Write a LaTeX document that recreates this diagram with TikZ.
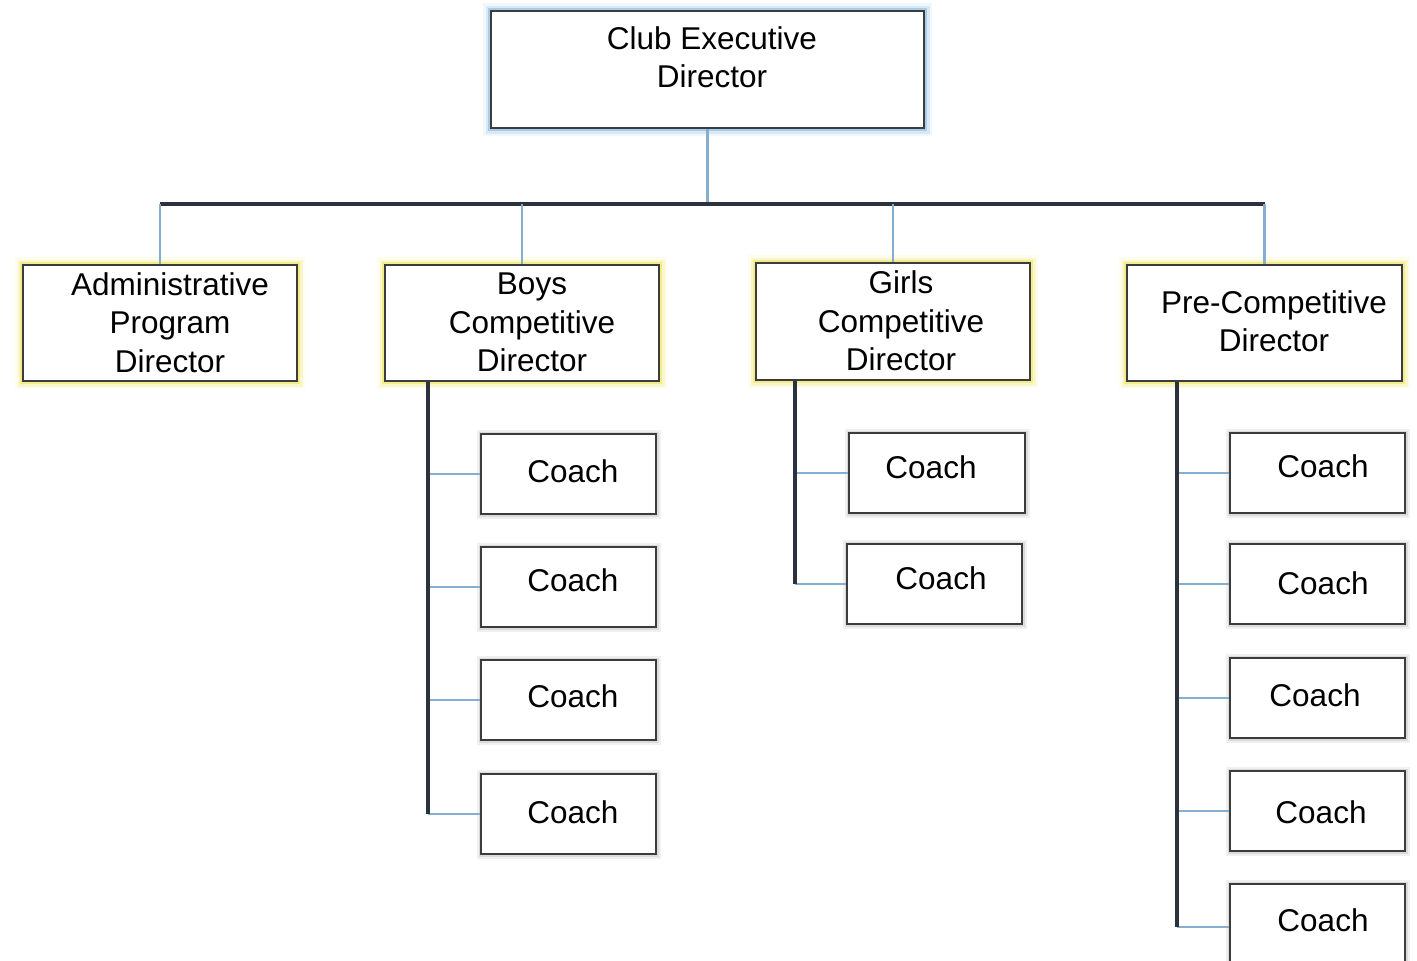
\documentclass[tikz,border=0pt]{standalone}
\usepackage{fontspec}
\setmainfont{Liberation Sans}
\definecolor{boxline}{HTML}{3C3C3C}
\definecolor{busc}{HTML}{2B323D}
\definecolor{twigc}{HTML}{86AED0}
\definecolor{yglow}{HTML}{F2EC8C}
\definecolor{bglow}{HTML}{A8CDEA}
\begin{document}
\begin{tikzpicture}[x=1pt,y=-1pt,
  box/.style={draw=boxline, line width=2pt, fill=white, inner sep=0pt},
  dirbox/.style={box, preaction={draw=yglow, line width=16pt, opacity=0.15}, preaction={draw=yglow, line width=11pt, opacity=0.35}, preaction={draw=yglow, line width=6pt}},
  topbox/.style={box, preaction={draw=bglow, line width=16pt, opacity=0.15}, preaction={draw=bglow, line width=11pt, opacity=0.35}, preaction={draw=bglow, line width=6pt}},
  coachbox/.style={box, minimum width=175pt, minimum height=80pt, preaction={draw=black!6, line width=9pt}, preaction={draw=black!14, line width=5pt}},
  txt/.style={font=\fontsize{31.5}{38.5}\selectfont, align=center, inner sep=0pt},
  bus/.style={draw=busc, line width=4pt},
  twig/.style={draw=twigc, line width=2.2pt}]
\clip (0,0) rectangle (1417,961);
\fill[white] (0,0) rectangle (1417,961);
% top
\node[topbox, minimum width=433pt, minimum height=117pt] (ceo) at (707.5,69.5) {};
\node[txt] (ceot) at (712,57) {Club Executive\\Director};
% directors
\node[dirbox, minimum width=274pt, minimum height=116pt] (adm) at (160,323) {};
\node[txt] (admt) at (170,322.5) {Administrative\\Program\\Director};
\node[dirbox, minimum width=274pt, minimum height=116pt] (boys) at (522,323) {};
\node[txt] (boyst) at (532,322.5) {Boys\\Competitive\\Director};
\node[dirbox, minimum width=274pt, minimum height=117pt] (girls) at (893,321.5) {};
\node[txt] (girlst) at (901,321) {Girls\\Competitive\\Director};
\node[dirbox, minimum width=275pt, minimum height=116pt] (pre) at (1264.5,323) {};
\node[txt] (pret) at (1274,321) {Pre-Competitive\\Director};
% boys coaches
\node[coachbox] (b1) at (568.5,474) {};
\node[txt] (b1t) at (573,471) {Coach};
\node[coachbox] (b2) at (568.5,587) {};
\node[txt] (b2t) at (573,580) {Coach};
\node[coachbox] (b3) at (568.5,700) {};
\node[txt] (b3t) at (573,696) {Coach};
\node[coachbox] (b4) at (568.5,814) {};
\node[txt] (b4t) at (573,812) {Coach};
% girls coaches
\node[coachbox, minimum width=176pt] (g1) at (937,473) {};
\node[txt] (g1t) at (931,467) {Coach};
\node[coachbox] (g2) at (934.5,584) {};
\node[txt] (g2t) at (941,578) {Coach};
% pre coaches
\node[coachbox] (p1) at (1317.5,473) {};
\node[txt] (p1t) at (1323,466) {Coach};
\node[coachbox] (p2) at (1317.5,584) {};
\node[txt] (p2t) at (1323,583) {Coach};
\node[coachbox] (p3) at (1317.5,698) {};
\node[txt] (p3t) at (1315,695) {Coach};
\node[coachbox] (p4) at (1317.5,811) {};
\node[txt] (p4t) at (1321,812) {Coach};
\node[coachbox] (p5) at (1317.5,924) {};
\node[txt] (p5t) at (1323,920) {Coach};
% bus
\coordinate (busy) at (0,204);
\draw[twig] (ceo.south) -- (ceo.south |- busy);
\draw[bus] (adm.north |- busy) -- (pre.north |- busy);
\foreach \n in {adm,boys,girls,pre} \draw[twig] (\n.north |- busy) -- (\n.north);
% spines
\coordinate (bs) at ([xshift=44pt]boys.south west);
\coordinate (gs) at ([xshift=40pt]girls.south west);
\coordinate (ps) at ([xshift=51pt]pre.south west);
\foreach \c in {b1,b2,b3,b4} \draw[twig] (\c.west -| bs) -- (\c.west);
\foreach \c in {g1,g2} \draw[twig] (\c.west -| gs) -- (\c.west);
\draw[twig] (p1.west -| ps) -- (p1.west);
\draw[twig] (p2.west -| ps) -- (p2.west);
\draw[twig] (p3.west -| ps) -- (p3.west);
\draw[twig] (p4.west -| ps) -- (p4.west);
\draw[twig] ([yshift=-3pt]p5.west -| ps) -- ([yshift=-3pt]p5.west);
\draw[bus] (bs) -- (bs |- b4.west);
\draw[bus] (gs) -- (gs |- g2.west);
\draw[bus] (ps) -- ([yshift=-3pt]ps |- p5.west);
\end{tikzpicture}
\end{document}
